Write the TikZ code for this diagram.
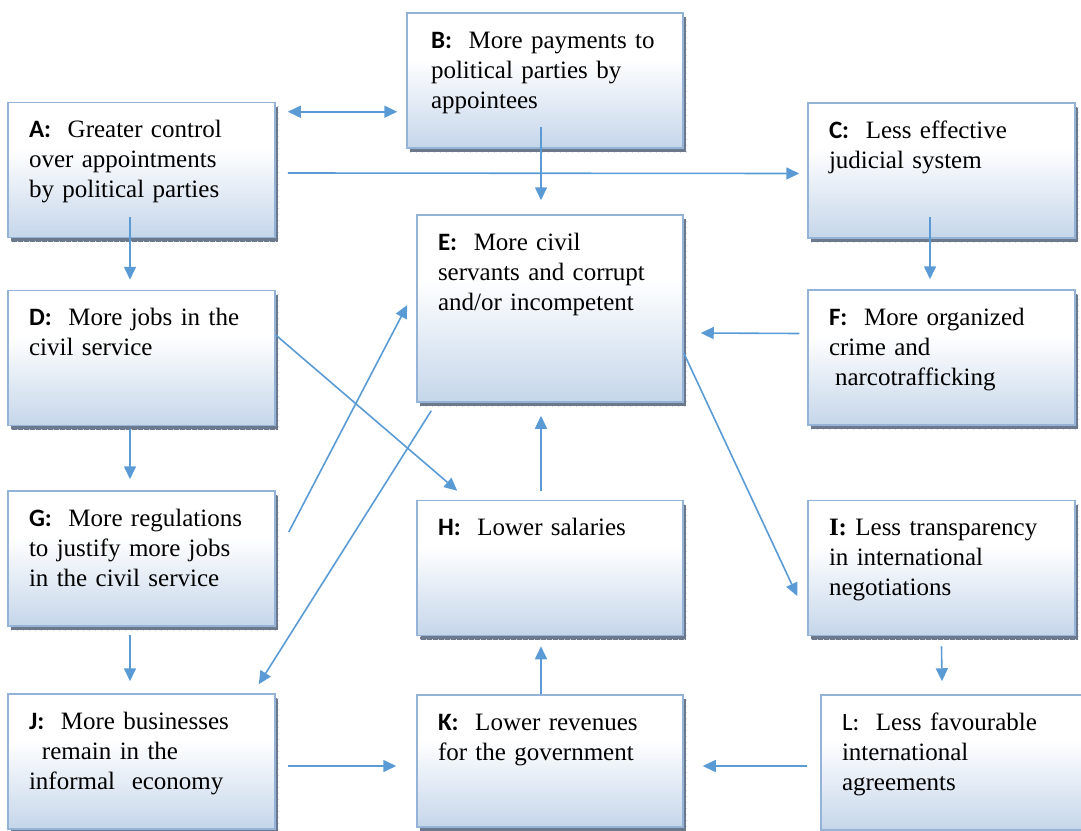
\documentclass[tikz,border=0pt]{standalone}
\usepackage{fontspec}
\setmainfont{Liberation Serif}
\newfontfamily\labfont{Carlito}
\usetikzlibrary{arrows.meta}
\usetikzlibrary{shadows}

\definecolor{boxline}{RGB}{149,179,215}
\definecolor{boxblue}{RGB}{197,214,234}
\definecolor{arrowblue}{RGB}{91,155,213}
\definecolor{shadowgray}{RGB}{108,120,140}

\pgfdeclareverticalshading{boxshade}{100bp}{color(0bp)=(boxblue); color(25bp)=(boxblue); color(58bp)=(white); color(100bp)=(white)}

\newcommand{\lab}[1]{{\labfont\bfseries #1}}

\tikzset{
  box/.style={rectangle, draw=boxline, line width=1.5pt, shading=boxshade,
    text width=225pt, align=left, inner xsep=21pt, inner ysep=0pt,
    text height=35pt, text depth=100pt, font=\fontsize{25}{30}\selectfont,
    general shadow={shadow xshift=3pt, shadow yshift=-4pt, fill=shadowgray,
      draw=white!70!shadowgray, line width=0.6pt, dash pattern=on 1pt off 5pt}},
  arr/.style={draw=arrowblue, line width=1.6pt, ->}
}

\begin{document}
\begin{tikzpicture}[x=1pt, y=-1pt, >={Triangle[length=13pt,width=12pt]}]
    \useasboundingbox (0,0) rectangle (1081,830);
    \clip (0,0) rectangle (1081,830);

    % Kaesten
    \node[box] (A) at (141.5,170) {\lab{A:}\ \ Greater control\\over appointments\\by political parties};
    \node[box, text width=228pt, inner xsep=24pt] (B) at (545,80.5) {\lab{B:}\ \ More payments to\\political parties by\\appointees};
    \node[box] (C) at (941.5,170.5) {\lab{C:}\ \ Less effective\\judicial system};
    \node[box] (D) at (141.5,358) {\lab{D:}\ \ More jobs in the\\civil service};
    \node[box, text width=224pt, text depth=152pt] (E) at (550,308.5) {\lab{E:}\ \ More civil\\servants and corrupt\\and/or incompetent};
    \node[box] (F) at (941.5,357.5) {\lab{F:}\ \ More organized\\crime and\\\hspace*{6pt}narcotrafficking};
    \node[box] (G) at (141.5,558.5) {\lab{G:}\ \ More regulations\\to justify more jobs\\in the civil service};
    \node[box, text width=224pt] (H) at (550,568) {\lab{H:}\ \ Lower salaries};
    \node[box] (I) at (941.5,568) {\textbf{I:} Less transparency\\in international\\negotiations};
    \node[box] (J) at (141.5,761.5) {\lab{J:}\ \ More businesses\\\hspace*{13pt}remain in the\\informal\ \ economy};
    \node[box, text width=224pt, text depth=97pt] (K) at (550,761) {\lab{K:}\ \ Lower revenues\\for the government};
    \node[box] (L) at (954.5,762.5) {{\labfont L:}\ \ Less favourable\\international\\agreements};

    % Pfeile oben
    \draw[arr, <->] ([xshift=12pt,yshift=-10pt]A.north east) -- ([xshift=-9pt,yshift=-10pt]A.north east -| B.west);
    \draw[arr] ([xshift=12pt,yshift=-3pt]A.east) -- ([xshift=-8pt,yshift=-3pt]C.west);
    \draw[arr] ([xshift=-4pt,yshift=22pt]B.south) -- ([xshift=-9pt,yshift=14pt]E.north);
    \draw[arr] ([xshift=-11.5pt,yshift=21pt]A.south) -- ([xshift=-11.5pt,yshift=10pt]D.north);
    \draw[arr] ([xshift=-11.5pt,yshift=22pt]C.south) -- ([xshift=-11.5pt,yshift=10pt]F.north);

    % Pfeile Mitte
    \draw[arr] ([xshift=-8pt,yshift=24pt]F.west) -- ([xshift=17pt,yshift=-24.5pt]E.east);
    \draw[arr] ([xshift=-11.5pt,yshift=-3pt]D.south) -- ([xshift=-11.5pt,yshift=11pt]G.north);
    \draw[arr] ([yshift=23pt]D.east) -- ([xshift=41pt,yshift=9pt]H.north west);
    \draw[arr] ([xshift=13pt,yshift=26.5pt]G.east) -- ([xshift=-9pt,yshift=3.5pt]E.west);
    \draw[arr] ([xshift=15pt,yshift=-8pt]E.south west) -- ([xshift=-17pt,yshift=9pt]J.north east);
    \draw[arr] ([yshift=-44.5pt]E.east) -- ([xshift=-10pt,yshift=-28pt]I.west);
    \draw[arr] ([xshift=-9pt,yshift=9pt]H.north) -- ([xshift=-9pt,yshift=-13pt]E.south);

    % Pfeile unten
    \draw[arr] ([xshift=-11.5pt,yshift=-8pt]G.south) -- ([xshift=-11.5pt,yshift=12pt]J.north);
    \draw[arr] ([yshift=-10pt]I.south) -- ([xshift=-12.5pt,yshift=13pt]L.north);
    \draw[arr] ([xshift=12pt,yshift=-4.5pt]J.east) -- ([xshift=-20pt,yshift=-5pt]K.west);
    \draw[arr] ([xshift=-9pt]K.north) -- ([xshift=-9pt,yshift=-10pt]H.south);
    \draw[arr] ([xshift=-13pt,yshift=-3.5pt]L.west) -- ([xshift=19pt,yshift=-5pt]K.east);

\end{tikzpicture}
\end{document}
